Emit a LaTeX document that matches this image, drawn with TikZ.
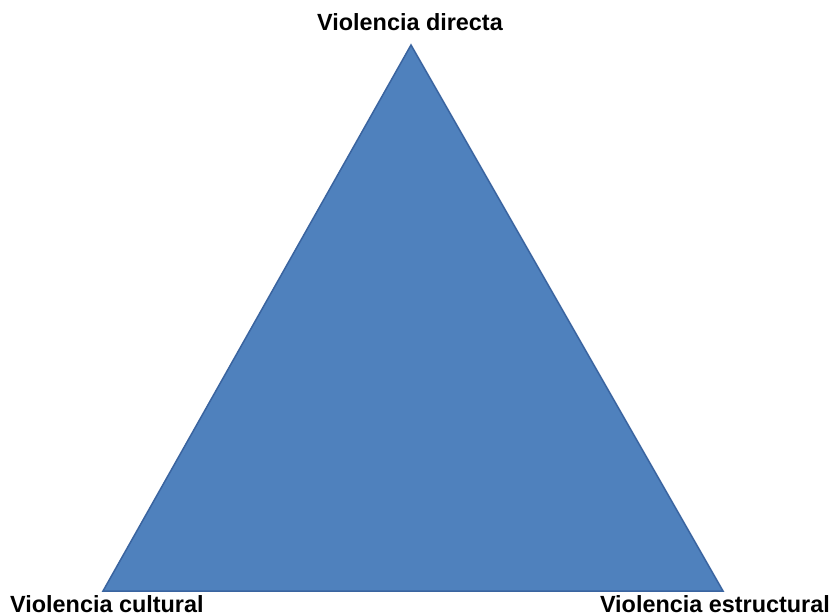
\documentclass[tikz,border=0pt]{standalone}
\usepackage{fontspec}
\setmainfont{Liberation Sans}
\definecolor{trifill}{HTML}{4F81BD}
\definecolor{triline}{HTML}{3A64A0}
\begin{document}
\begin{tikzpicture}[x=1pt,y=-1pt,
  lbl/.style={font=\bfseries\fontsize{23.4}{26}\selectfont, inner sep=0pt, text=black}]
\useasboundingbox[fill=white] (0,0) rectangle (833,616);
\coordinate (top) at (411,45);
\coordinate (bl) at (103,591);
\coordinate (br) at (723,591);
\filldraw[fill=trifill, draw=triline, line width=1.5pt, line join=miter] (top) -- (bl) -- (br) -- cycle;
\node[lbl, anchor=base] (ld) at (410,30) {Violencia directa};
\node[lbl, anchor=base west] (lc) at (10,612) {Violencia cultural};
\node[lbl, anchor=base east] (le) at (830,612) {Violencia estructural};
\end{tikzpicture}
\end{document}
